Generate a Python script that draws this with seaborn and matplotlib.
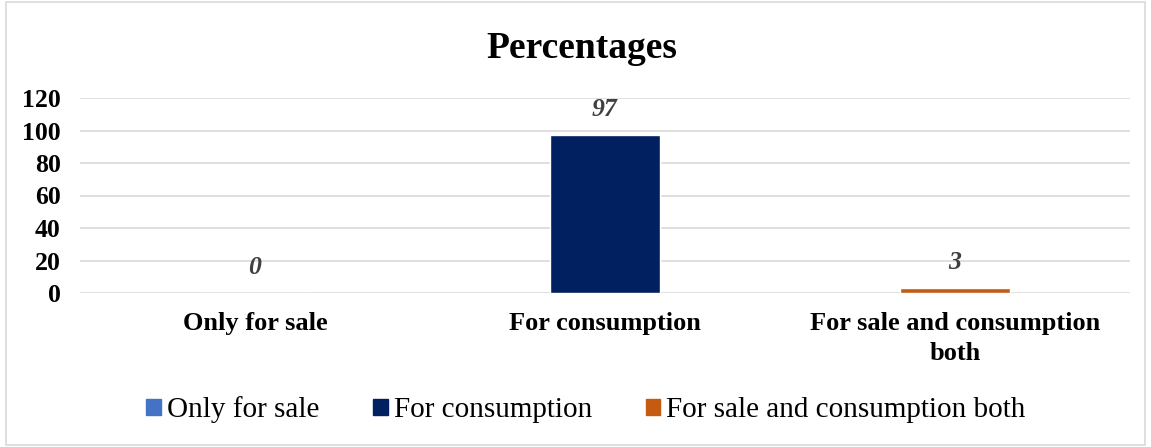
import matplotlib
matplotlib.use("Agg")
import matplotlib.pyplot as plt
import seaborn as sns
import pandas as pd
from matplotlib.patches import Rectangle

categories = ["Only for sale", "For consumption", "For sale and consumption both"]
tick_labels = ["Only for sale", "For consumption", "For sale and consumption\nboth"]
percentages = [0, 97, 3]
colors = ["#4472C4", "#002060", "#C55A11"]
y_ticks = [0, 20, 40, 60, 80, 100, 120]

df = pd.DataFrame({"category": categories, "pct": percentages})

sns.set_theme(style="white")
plt.rcParams["font.family"] = ["Liberation Serif", "DejaVu Serif"]
plt.rcParams["text.color"] = "black"
plt.rcParams["xtick.color"] = "black"
plt.rcParams["ytick.color"] = "black"

fig = plt.figure(figsize=(11.51, 4.47), dpi=100)
ax = fig.add_axes([80 / 1151, 1 - 293 / 447, 1050 / 1151, (293 - 98) / 447])

sns.barplot(data=df, x="category", y="pct", hue="category", palette=colors,
            order=categories, hue_order=categories, dodge=False, width=0.314,
            legend=False, ax=ax, saturation=1)

ax.set_ylim(0, 120)
ax.set_xlim(-0.5, 2.5)
ax.set_yticks(y_ticks)
ax.set_yticklabels([str(t) for t in y_ticks], fontsize=18.5, fontweight="bold",
                   color="black")
ax.set_xticks(range(len(categories)))
ax.set_xticklabels(tick_labels, fontsize=19, fontweight="bold", color="black")
for lbl in ax.get_xticklabels():
    lbl.set_linespacing(1.35)
ax.tick_params(axis="y", length=0, pad=14)
ax.tick_params(axis="x", length=0, pad=14)
ax.set_xlabel("")
ax.set_ylabel("")
ax.grid(axis="y", color="#D9D9D9", linewidth=1.2)
ax.set_axisbelow(True)
for s in ax.spines.values():
    s.set_visible(False)

for i, v in enumerate(percentages):
    ax.annotate(str(v), (i, v), xytext=(0, 10), textcoords="offset points",
                ha="center", va="bottom", fontsize=18.5, fontstyle="italic",
                fontweight="bold", color="#404040")

fig.suptitle("Percentages", x=582 / 1151, y=1 - 49 / 447, va="center",
             fontsize=27, fontweight="bold", color="black")

handles = [Rectangle((0, 0), 1, 1, color=c) for c in colors]
fig.legend(handles, categories, loc="center", bbox_to_anchor=(586 / 1151, 1 - 410 / 447),
           ncol=3, frameon=False, fontsize=21, handlelength=0.5, handleheight=0.5,
           handletextpad=0.2, columnspacing=1.85, labelcolor="black")

fig.add_artist(Rectangle((6 / 1151, 2 / 447), 1139 / 1151, 443 / 447,
                         transform=fig.transFigure, fill=False,
                         edgecolor="#D9D9D9", linewidth=1.2))

fig.savefig("out.png", dpi=100)
